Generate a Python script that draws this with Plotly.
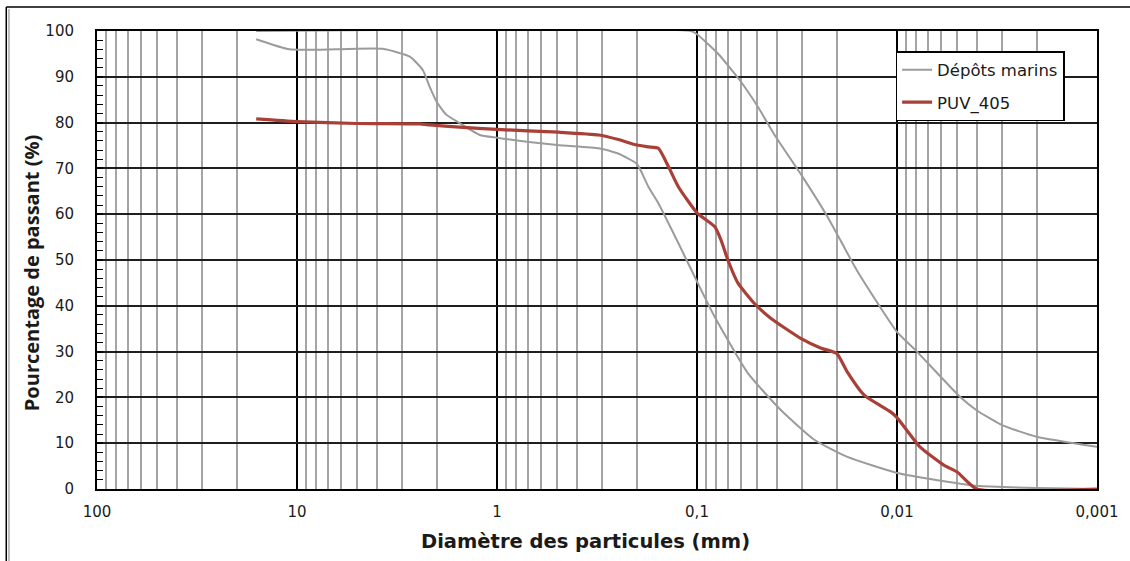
import plotly.graph_objects as go

# Particle size distributions (diameter in mm, percent passing)
diam_marins_low = [16, 10.9, 6.3, 3.73, 2.73, 2.35, 2.17, 2.0, 1.8, 1.54, 1.22, 1.0,
                   0.5, 0.31, 0.25, 0.2, 0.175, 0.156, 0.124, 0.1, 0.0816, 0.0557,
                   0.038, 0.0258, 0.0177, 0.01, 0.0056, 0.004, 0.002, 0.001]
pct_marins_low = [98.2, 96.0, 96.0, 96.1, 94.4, 91.5, 87.8, 84.5, 81.8, 79.9, 77.3, 76.7,
                  75.1, 74.4, 73.3, 71.0, 66.0, 62.4, 53.7, 45.3, 37.6, 25.3,
                  17.2, 10.7, 7.0, 3.5, 1.6, 0.7, 0.2, 0.0]

diam_marins_high = [16, 0.107, 0.1, 0.0786, 0.0612, 0.0497, 0.0404, 0.0297, 0.0223,
                    0.0158, 0.01, 0.00795, 0.00486, 0.004, 0.003, 0.002, 0.001]
pct_marins_high = [100, 100, 99.3, 95.1, 89.3, 83.5, 76.9, 68.2, 59.5,
                   47.6, 34.3, 30.0, 20.2, 17.2, 14.0, 11.4, 9.2]

diam_puv = [16, 10, 5, 2.44, 2.17, 1.54, 1.0, 0.491, 0.31, 0.247, 0.2, 0.175, 0.156,
            0.139, 0.124, 0.1, 0.0816, 0.0759, 0.0701, 0.0625, 0.0516, 0.0428, 0.0303,
            0.0241, 0.02, 0.0177, 0.0146, 0.0108, 0.01, 0.00768, 0.00583, 0.005, 0.004, 0.001]
pct_puv = [80.8, 80.2, 79.8, 79.7, 79.5, 79.0, 78.5, 77.9, 77.3, 76.3, 75.1, 74.7, 74.4,
           70.4, 66.0, 60.3, 57.3, 54.4, 50.0, 45.0, 40.5, 37.3, 32.9,
           30.8, 29.6, 25.5, 20.5, 16.9, 15.6, 9.2, 5.2, 3.7, 0.0, 0.0]

x_major = [100, 10, 1, 0.1, 0.01, 0.001]
x_major_text = ["100", "10", "1", "0,1", "0,01", "0,001"]
x_minor = [m * d for d in [10, 1, 0.1, 0.01, 0.001] for m in range(2, 10)]

GRAY = "rgb(155,155,155)"
RED = "rgb(168,64,56)"
FONT = "DejaVu Sans"
TXT = "#1a1a1a"

fig = go.Figure()
fig.add_trace(go.Scatter(x=diam_marins_low, y=pct_marins_low, mode="lines",
                         name="Dépôts marins", legendgroup="a",
                         line=dict(color=GRAY, width=2, shape="spline", smoothing=0.5)))
fig.add_trace(go.Scatter(x=diam_marins_high, y=pct_marins_high, mode="lines",
                         name="Dépôts marins", showlegend=False, legendgroup="a",
                         line=dict(color=GRAY, width=2, shape="spline", smoothing=0.5)))
fig.add_trace(go.Scatter(x=diam_puv, y=pct_puv, mode="lines", name="PUV_405",
                         legendgroup="b",
                         line=dict(color=RED, width=3.2, shape="spline", smoothing=0.5)))

L, R, T, B = 97, 30, 31, 72
W, H = 1130, 561
pw, ph = W - L - R, H - T - B


def px_x(p):
    return (p - L) / pw


def px_y(p):
    return (H - B - p) / ph


fig.update_layout(
    width=W, height=H,
    margin=dict(l=L, r=R, t=T, b=B),
    paper_bgcolor="white", plot_bgcolor="white",
    font=dict(family=FONT, color=TXT, size=15),
    showlegend=True,
    legend=dict(x=px_x(898), y=px_y(51), xanchor="left", yanchor="top",
                bgcolor="white", bordercolor="black", borderwidth=1.5,
                font=dict(size=16.5, family=FONT, color=TXT),
                traceorder="grouped", tracegroupgap=8, itemwidth=30),
)

fig.update_xaxes(
    type="log", range=[2, -3],
    tickvals=x_major, ticktext=x_major_text, ticks="",
    showgrid=True, gridcolor="black", gridwidth=1.5,
    minor=dict(tickvals=x_minor, showgrid=True, gridcolor="rgb(165,165,165)",
               gridwidth=1.5, ticks=""),
    showline=True, linecolor="black", linewidth=2, mirror=True,
    layer="below traces",
    tickfont=dict(size=15, family=FONT, color=TXT), ticklabelstandoff=8,
    zeroline=False,
)
fig.update_yaxes(
    range=[0, 100], dtick=10,
    showgrid=True, gridcolor="rgb(30,30,30)", gridwidth=1.5,
    ticks="inside", ticklen=6, tickcolor="black", tickwidth=1.5,
    minor=dict(dtick=2, ticks="inside", ticklen=6, tickcolor="black", tickwidth=1, showgrid=False),
    showline=True, linecolor="black", linewidth=2, mirror=True,
    layer="below traces",
    tickfont=dict(size=15, family=FONT, color=TXT), ticklabelstandoff=18,
    zeroline=False,
)

# Axis titles
fig.add_annotation(text="<b>Diamètre des particules (mm)</b>", xref="paper", yref="paper",
                   x=px_x(587), y=px_y(541), showarrow=False,
                   xanchor="center", yanchor="middle",
                   font=dict(size=19.5, family=FONT, color=TXT))
fig.add_annotation(text="<b>Pourcentage de passant (%)</b>", xref="paper", yref="paper",
                   x=px_x(31), y=px_y(273), showarrow=False, textangle=-90,
                   xanchor="center", yanchor="middle",
                   font=dict(size=20, family="Open Sans", color=TXT))

# Outer chart frame (top and left edges)
fig.add_shape(type="line", xref="paper", yref="paper",
              x0=px_x(6), x1=px_x(W + 5), y0=px_y(7), y1=px_y(7),
              line=dict(color="black", width=1.5))
fig.add_shape(type="line", xref="paper", yref="paper",
              x0=px_x(6), x1=px_x(6), y0=px_y(7), y1=px_y(H + 5),
              line=dict(color="black", width=1.5))
fig.add_shape(type="line", xref="paper", yref="paper",
              x0=px_x(8.7), x1=px_x(8.7), y0=px_y(9), y1=px_y(H + 5),
              line=dict(color="rgb(170,170,170)", width=1.5))

fig.write_html("out.html")
